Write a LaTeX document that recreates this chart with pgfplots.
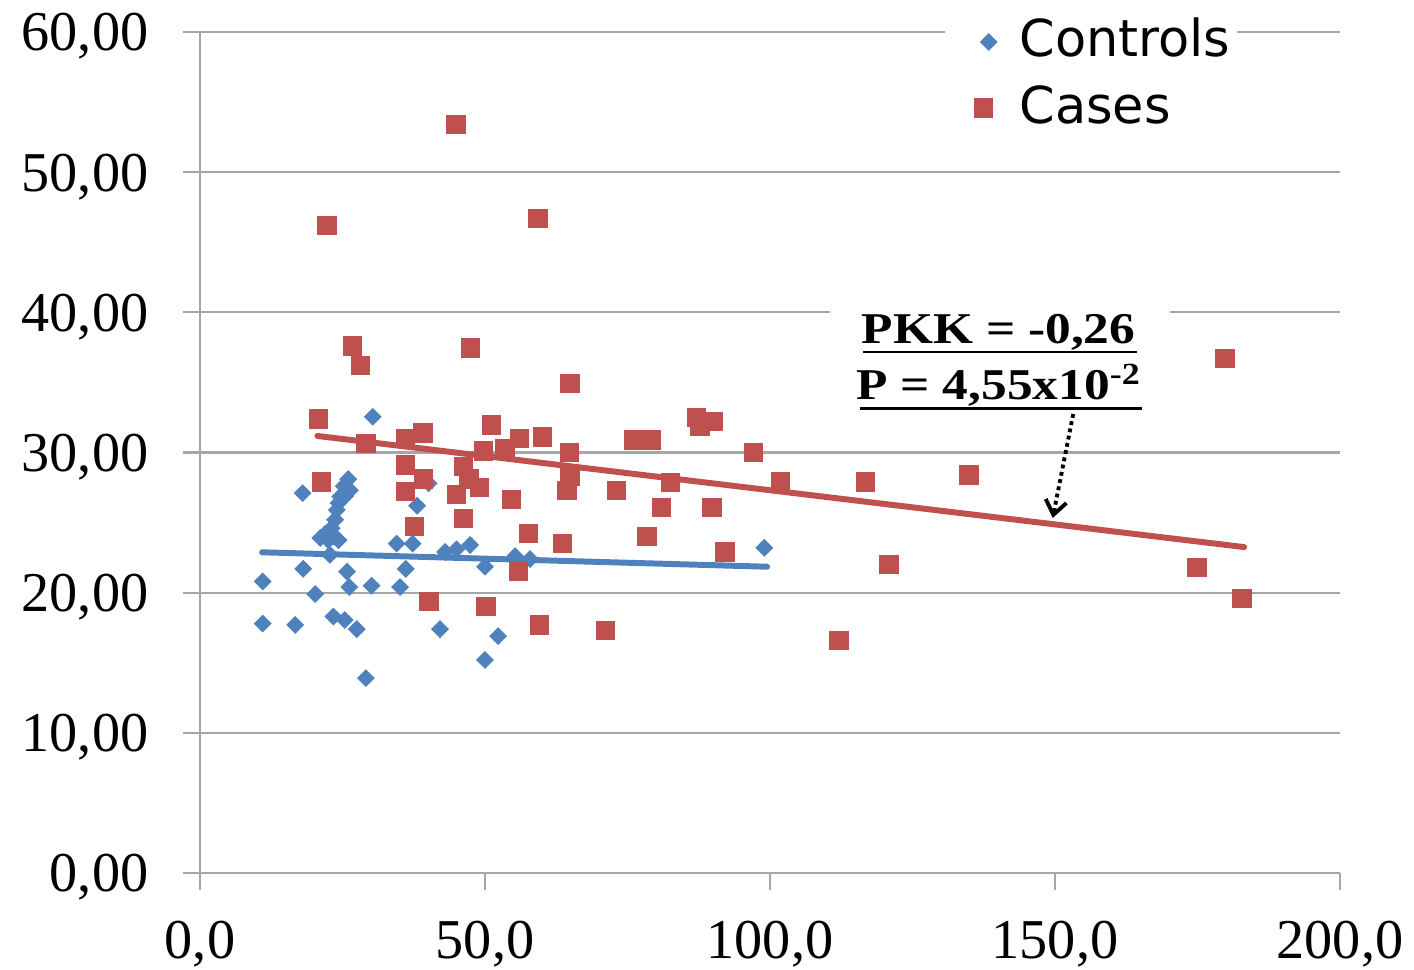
\documentclass[border=0pt]{standalone}
\usepackage{fontspec}
\setmainfont{Liberation Serif}
\newfontfamily\legfont{DejaVu Sans}
\usepackage{graphicx}
\usepackage{pgfplots}
\pgfplotsset{compat=1.18}
\usetikzlibrary{arrows.meta}
\definecolor{cblue}{HTML}{4F81BD}
\definecolor{cred}{HTML}{C0504D}
\definecolor{gridgray}{HTML}{A6A6A6}
\pgfplotsset{
  legimgA/.style={legend image code/.code={\path (0,0) (0.66cm,0); \draw[##1] plot coordinates {(0.43cm,0cm)};}},
  legimgB/.style={legend image code/.code={\path (0,0) (0.66cm,0); \draw[##1] plot coordinates {(0.38cm,0cm)};}},
}
\begin{document}
\begin{tikzpicture}
\begin{axis}[
  name=ax, scale only axis, width=11.4cm, height=8.41cm,
  xmin=0, xmax=200, ymin=0, ymax=60,
  xtick={0,50,...,200}, ytick={0,10,...,60},
  axis x line*=bottom, axis y line*=left,
  axis line style={gridgray, line width=0.6pt, -},
  tick style={gridgray, line width=0.6pt},
  tick align=outside, major tick length=0.17cm,
  ymajorgrids, grid style={gridgray, line width=0.6pt},
  /pgf/number format/assume math mode=true,
  ticklabel style={font=\fontsize{16}{16}\selectfont},
  yticklabel style={/pgf/number format/fixed, /pgf/number format/fixed zerofill,
    /pgf/number format/precision=2, /pgf/number format/use comma,
    anchor=base east, inner sep=0pt, xshift=-0.34cm, yshift=-5.4pt},
  xticklabel style={/pgf/number format/fixed, /pgf/number format/fixed zerofill,
    /pgf/number format/precision=1, /pgf/number format/use comma,
    anchor=north, inner sep=0pt, yshift=-0.30cm},
  legend style={at={(rel axis cs:0.6535,1.0226)}, anchor=north west, draw=none,
    fill=white, inner sep=0pt, outer sep=0pt,
    font=\legfont\fontsize{14.5}{16}\selectfont, row sep=2.3pt,
    /tikz/column sep=0pt,
    nodes={inner sep=2pt, text height=10.5pt, text depth=2pt}},
  legend cell align=left,
]
\addplot[only marks, color=cblue, mark=square*, mark size=1.6pt,
  mark options={rotate=45, fill=cblue, draw=cblue}, legimgA]
coordinates {
(30.3,32.55) (18.0,27.1) (26.0,28.1) (26.3,27.3) (25.2,27.6) (25.5,26.9)
(24.6,26.85) (24.3,26.4) (24.0,25.9) (23.7,25.2) (23.1,24.6) (23.5,24.0)
(22.0,24.2) (21.1,23.9) (22.5,23.75) (24.3,23.75) (22.8,22.7)
(34.5,23.5) (37.3,23.5) (38.1,26.2) (40.1,27.8) (36.1,21.7)
(43.0,22.9) (45.0,23.1) (47.4,23.4) (50.0,21.85) (55.3,22.6) (57.9,22.4)
(18.1,21.7) (11.0,20.8) (20.2,19.9) (25.8,21.5) (26.2,20.4) (30.1,20.5)
(35.1,20.4) (11.0,17.8) (16.7,17.7) (23.4,18.3) (25.4,18.05) (27.5,17.4)
(42.1,17.4) (52.3,16.9) (50.0,15.2) (29.1,13.9) (99.0,23.2)
};
\addlegendentry{Controls}
\addplot[only marks, color=cred, mark=square*, mark size=2.55pt,
  mark options={fill=cred, draw=cred}, legimgB]
coordinates {
(44.9,53.4) (22.3,46.2) (59.3,46.7) (26.8,37.6) (47.4,37.45) (28.1,36.2)
(64.9,34.9) (179.8,36.7) (20.8,32.4) (21.3,27.9) (29.1,30.65) (36.0,31.0)
(39.1,31.4) (36.0,29.1) (39.2,28.1) (36.0,27.2) (37.6,24.7) (40.2,19.35)
(51.1,31.96) (49.7,30.1) (53.5,30.3) (56.1,31.0) (60.1,31.1) (46.2,29.0)
(47.2,28.1) (45.0,27.0) (49.0,27.5) (46.2,25.3) (54.7,26.65) (57.6,24.2)
(63.6,23.5) (55.9,21.5) (50.2,19.0) (59.6,17.7) (71.1,17.3) (64.8,30.0)
(64.9,28.3) (64.4,27.3) (73.1,27.3) (76.0,30.9) (79.1,30.9) (81.0,26.1)
(82.5,27.85) (78.4,24.0) (87.1,32.5) (87.7,31.9) (90.1,32.2) (89.8,26.1)
(92.1,22.9) (97.1,30.0) (101.8,27.9) (116.8,27.9) (134.9,28.4) (120.9,22.0)
(112.1,16.6) (174.9,21.8) (182.8,19.6)
};
\addlegendentry{Cases}
\addplot[forget plot, cblue, line width=1.7pt, line cap=round] coordinates {(10.9,22.88) (99.5,21.85)};
\addplot[forget plot, cred, line width=1.7pt, line cap=round] coordinates {(20.6,31.18) (183.2,23.25)};
\fill[white] (axis cs:110.5,32.3) rectangle (axis cs:170.2,40.9);
\node[anchor=base, inner sep=0pt, font=\bfseries\fontsize{12.5}{14}\selectfont]
  at (axis cs:140.1,37.81) {\scalebox{1.17}[1]{PKK = -0,26}};
\node[anchor=base, inner sep=0pt, font=\bfseries\fontsize{12.5}{14}\selectfont]
  at (axis cs:140.2,33.75) {\scalebox{1.17}[1]{P = 4,55x10\textsuperscript{-2}}};
\draw[black, line width=0.85pt] (axis cs:116.3,37.17) -- (axis cs:164.4,37.17);
\draw[black, line width=0.85pt] (axis cs:115.8,33.17) -- (axis cs:165.3,33.17);
\draw[black, densely dotted, line width=1.1pt, -{Straight Barb[length=4pt,width=6pt]}]
  (axis cs:153.2,32.75) -- (axis cs:149.6,25.33);
\end{axis}
\pgfresetboundingbox
\path[use as bounding box] ([xshift=-2cm,yshift=-0.97cm]ax.south west) rectangle ([xshift=0.74cm,yshift=0.32cm]ax.north east);
\end{tikzpicture}
\end{document}
